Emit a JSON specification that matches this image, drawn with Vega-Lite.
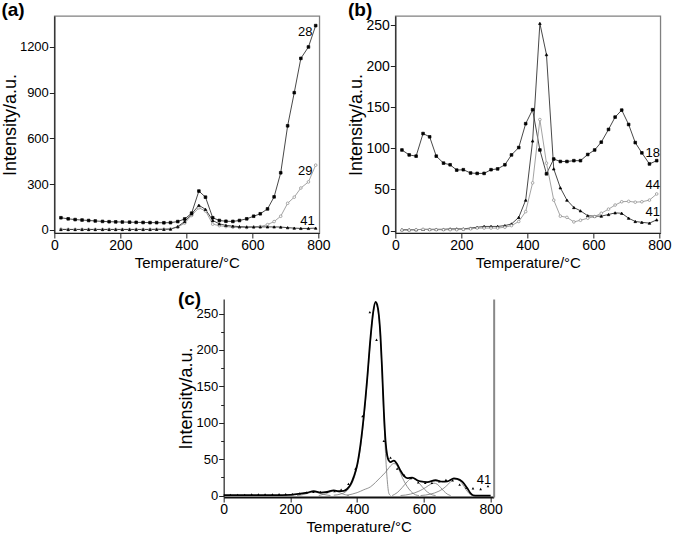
{
"$schema": "https://vega.github.io/schema/vega-lite/v6.json",
"padding": 0,
"background": "white",
"config": {
  "font": "Liberation Sans",
  "view": {"stroke": "#808080", "strokeWidth": 1.3},
  "axis": {"grid": false, "domainColor": "#222", "domainWidth": 1.2, "tickColor": "#222", "tickWidth": 1, "labelColor": "#000", "titleColor": "#000", "labelFont": "Liberation Sans", "titleFont": "Liberation Sans", "titleFontWeight": "normal", "labelFlush": false, "labelOverlap": false},
  "axisX": {"labelFontSize": 14, "titleFontSize": 15, "titlePadding": 3, "labelPadding": 0},
  "axisY": {"labelFontSize": 13, "titleFontSize": 18, "titlePadding": 0, "labelPadding": 1},
  "title": {"font": "Liberation Sans", "fontSize": 19, "fontWeight": "bold", "anchor": "start", "frame": "bounds", "color": "#000"},
  "text": {"font": "Liberation Sans", "fontSize": 13, "color": "#000"}
},
"datasets": {
  "a": [
    {"s":"28","T":20,"I":80},{"s":"28","T":42,"I":73},{"s":"28","T":63,"I":68},{"s":"28","T":84,"I":65},{"s":"28","T":104,"I":62},{"s":"28","T":124,"I":59},{"s":"28","T":146,"I":56},{"s":"28","T":166,"I":54},{"s":"28","T":186,"I":53},{"s":"28","T":206,"I":52},{"s":"28","T":228,"I":51},{"s":"28","T":248,"I":50},{"s":"28","T":269,"I":49},{"s":"28","T":290,"I":48},{"s":"28","T":310,"I":48},{"s":"28","T":332,"I":47},{"s":"28","T":352,"I":48},{"s":"28","T":374,"I":55},{"s":"28","T":395,"I":72},{"s":"28","T":416,"I":110},{"s":"28","T":438,"I":255},{"s":"28","T":458,"I":215},{"s":"28","T":480,"I":80},{"s":"28","T":500,"I":62},{"s":"28","T":520,"I":57},{"s":"28","T":541,"I":56},{"s":"28","T":561,"I":62},{"s":"28","T":583,"I":73},{"s":"28","T":604,"I":90},{"s":"28","T":624,"I":106},{"s":"28","T":646,"I":138},{"s":"28","T":666,"I":217},{"s":"28","T":686,"I":375},{"s":"28","T":707,"I":683},{"s":"28","T":727,"I":900},{"s":"28","T":747,"I":1125},{"s":"28","T":770,"I":1200},{"s":"28","T":792,"I":1340},
    {"s":"29","T":20,"I":5},{"s":"29","T":42,"I":4},{"s":"29","T":63,"I":4},{"s":"29","T":84,"I":4},{"s":"29","T":104,"I":4},{"s":"29","T":124,"I":4},{"s":"29","T":146,"I":4},{"s":"29","T":166,"I":4},{"s":"29","T":186,"I":4},{"s":"29","T":206,"I":4},{"s":"29","T":228,"I":4},{"s":"29","T":248,"I":4},{"s":"29","T":269,"I":4},{"s":"29","T":290,"I":4},{"s":"29","T":310,"I":5},{"s":"29","T":332,"I":5},{"s":"29","T":352,"I":6},{"s":"29","T":374,"I":18},{"s":"29","T":395,"I":45},{"s":"29","T":416,"I":95},{"s":"29","T":438,"I":145},{"s":"29","T":458,"I":125},{"s":"29","T":480,"I":38},{"s":"29","T":500,"I":28},{"s":"29","T":520,"I":22},{"s":"29","T":541,"I":18},{"s":"29","T":561,"I":16},{"s":"29","T":583,"I":16},{"s":"29","T":604,"I":18},{"s":"29","T":624,"I":22},{"s":"29","T":646,"I":35},{"s":"29","T":666,"I":55},{"s":"29","T":686,"I":90},{"s":"29","T":707,"I":175},{"s":"29","T":727,"I":215},{"s":"29","T":747,"I":275},{"s":"29","T":770,"I":315},{"s":"29","T":792,"I":425},
    {"s":"41","T":20,"I":3},{"s":"41","T":42,"I":3},{"s":"41","T":63,"I":3},{"s":"41","T":84,"I":3},{"s":"41","T":104,"I":3},{"s":"41","T":124,"I":3},{"s":"41","T":146,"I":3},{"s":"41","T":166,"I":3},{"s":"41","T":186,"I":3},{"s":"41","T":206,"I":3},{"s":"41","T":228,"I":3},{"s":"41","T":248,"I":3},{"s":"41","T":269,"I":3},{"s":"41","T":290,"I":3},{"s":"41","T":310,"I":4},{"s":"41","T":332,"I":4},{"s":"41","T":352,"I":6},{"s":"41","T":374,"I":22},{"s":"41","T":395,"I":55},{"s":"41","T":416,"I":105},{"s":"41","T":438,"I":162},{"s":"41","T":458,"I":135},{"s":"41","T":480,"I":62},{"s":"41","T":500,"I":40},{"s":"41","T":520,"I":30},{"s":"41","T":541,"I":25},{"s":"41","T":561,"I":22},{"s":"41","T":583,"I":20},{"s":"41","T":604,"I":20},{"s":"41","T":624,"I":20},{"s":"41","T":646,"I":20},{"s":"41","T":666,"I":20},{"s":"41","T":686,"I":19},{"s":"41","T":707,"I":15},{"s":"41","T":727,"I":12},{"s":"41","T":747,"I":10},{"s":"41","T":770,"I":10},{"s":"41","T":792,"I":12}
  ],
  "b": [
    {"s":"18","T":20,"I":98},{"s":"18","T":42,"I":92},{"s":"18","T":63,"I":90.5},{"s":"18","T":84,"I":118},{"s":"18","T":104,"I":114},{"s":"18","T":124,"I":90.5},{"s":"18","T":146,"I":82},{"s":"18","T":166,"I":80},{"s":"18","T":186,"I":73.5},{"s":"18","T":206,"I":74},{"s":"18","T":228,"I":70},{"s":"18","T":248,"I":69.5},{"s":"18","T":269,"I":69.5},{"s":"18","T":290,"I":74},{"s":"18","T":310,"I":75},{"s":"18","T":332,"I":80},{"s":"18","T":352,"I":92},{"s":"18","T":374,"I":101},{"s":"18","T":395,"I":130},{"s":"18","T":416,"I":147},{"s":"18","T":438,"I":98},{"s":"18","T":458,"I":69},{"s":"18","T":480,"I":87},{"s":"18","T":500,"I":84},{"s":"18","T":520,"I":84},{"s":"18","T":541,"I":85},{"s":"18","T":561,"I":85},{"s":"18","T":583,"I":92.5},{"s":"18","T":604,"I":98},{"s":"18","T":624,"I":107.5},{"s":"18","T":646,"I":123},{"s":"18","T":666,"I":138},{"s":"18","T":686,"I":146.5},{"s":"18","T":707,"I":129},{"s":"18","T":727,"I":107},{"s":"18","T":747,"I":94.5},{"s":"18","T":770,"I":81},{"s":"18","T":792,"I":85},
    {"s":"41","T":20,"I":1},{"s":"41","T":42,"I":1},{"s":"41","T":63,"I":1},{"s":"41","T":84,"I":1.5},{"s":"41","T":104,"I":1.5},{"s":"41","T":124,"I":1.5},{"s":"41","T":146,"I":1.5},{"s":"41","T":166,"I":2},{"s":"41","T":186,"I":2},{"s":"41","T":206,"I":2},{"s":"41","T":228,"I":3},{"s":"41","T":248,"I":4},{"s":"41","T":269,"I":5},{"s":"41","T":290,"I":5},{"s":"41","T":310,"I":5},{"s":"41","T":332,"I":6},{"s":"41","T":352,"I":8},{"s":"41","T":374,"I":16},{"s":"41","T":395,"I":37},{"s":"41","T":416,"I":109},{"s":"41","T":438,"I":252},{"s":"41","T":458,"I":214},{"s":"41","T":480,"I":75},{"s":"41","T":500,"I":52},{"s":"41","T":520,"I":37},{"s":"41","T":541,"I":28},{"s":"41","T":561,"I":24},{"s":"41","T":583,"I":18},{"s":"41","T":604,"I":17.5},{"s":"41","T":624,"I":17.5},{"s":"41","T":646,"I":19.5},{"s":"41","T":666,"I":21.5},{"s":"41","T":686,"I":21},{"s":"41","T":707,"I":15},{"s":"41","T":727,"I":11},{"s":"41","T":747,"I":10},{"s":"41","T":770,"I":9},{"s":"41","T":792,"I":13},
    {"s":"44","T":20,"I":0.5},{"s":"44","T":42,"I":0.5},{"s":"44","T":63,"I":1},{"s":"44","T":84,"I":1.5},{"s":"44","T":104,"I":1},{"s":"44","T":124,"I":1},{"s":"44","T":146,"I":1},{"s":"44","T":166,"I":1},{"s":"44","T":186,"I":1},{"s":"44","T":206,"I":1.5},{"s":"44","T":228,"I":2},{"s":"44","T":248,"I":3},{"s":"44","T":269,"I":3},{"s":"44","T":290,"I":3},{"s":"44","T":310,"I":3},{"s":"44","T":332,"I":4},{"s":"44","T":352,"I":6},{"s":"44","T":374,"I":11},{"s":"44","T":395,"I":23},{"s":"44","T":416,"I":58},{"s":"44","T":438,"I":135},{"s":"44","T":458,"I":82},{"s":"44","T":480,"I":37},{"s":"44","T":500,"I":17.5},{"s":"44","T":520,"I":16},{"s":"44","T":541,"I":10.5},{"s":"44","T":561,"I":12.5},{"s":"44","T":583,"I":15},{"s":"44","T":604,"I":17},{"s":"44","T":624,"I":21},{"s":"44","T":646,"I":26},{"s":"44","T":666,"I":31},{"s":"44","T":686,"I":35},{"s":"44","T":707,"I":35.5},{"s":"44","T":727,"I":34.5},{"s":"44","T":747,"I":35},{"s":"44","T":770,"I":37},{"s":"44","T":792,"I":44.5}
  ],
  "cfit": [
    {"T":0,"I":0.5},{"T":50,"I":0.5},{"T":100,"I":0.5},{"T":150,"I":0.5},{"T":200,"I":1},{"T":230,"I":2.5},{"T":250,"I":4},{"T":270,"I":6},{"T":290,"I":4},{"T":310,"I":5},{"T":330,"I":7},{"T":345,"I":6},{"T":360,"I":6.5},{"T":370,"I":9},{"T":380,"I":15},{"T":390,"I":26},{"T":400,"I":42},{"T":410,"I":70},{"T":420,"I":110},{"T":425,"I":134},{"T":430,"I":160},{"T":440,"I":217},{"T":448,"I":252},{"T":455,"I":266},{"T":460,"I":262},{"T":465,"I":248},{"T":470,"I":218},{"T":475,"I":170},{"T":480,"I":115},{"T":485,"I":75},{"T":490,"I":55},{"T":495,"I":48},{"T":500,"I":46},{"T":510,"I":48},{"T":520,"I":43},{"T":530,"I":34},{"T":540,"I":27},{"T":550,"I":24},{"T":565,"I":24.5},{"T":580,"I":21},{"T":590,"I":19.5},{"T":610,"I":18.5},{"T":635,"I":21},{"T":655,"I":19},{"T":670,"I":19.5},{"T":690,"I":23.5},{"T":700,"I":23},{"T":715,"I":19},{"T":730,"I":10},{"T":740,"I":3},{"T":748,"I":0.3},{"T":760,"I":0},{"T":800,"I":0}
  ],
  "ccomp": [
    {"c":"1","T":330,"I":0.5},{"c":"1","T":350,"I":2},{"c":"1","T":370,"I":7},{"c":"1","T":380,"I":13},{"c":"1","T":390,"I":23},{"c":"1","T":400,"I":40},{"c":"1","T":410,"I":66},{"c":"1","T":420,"I":106},{"c":"1","T":425,"I":130},{"c":"1","T":430,"I":157},{"c":"1","T":440,"I":214},{"c":"1","T":448,"I":250},{"c":"1","T":455,"I":264},{"c":"1","T":460,"I":260},{"c":"1","T":465,"I":245},{"c":"1","T":470,"I":214},{"c":"1","T":475,"I":165},{"c":"1","T":480,"I":108},{"c":"1","T":485,"I":58},{"c":"1","T":490,"I":22},{"c":"1","T":495,"I":3},{"c":"1","T":500,"I":0},
    {"c":"2","T":370,"I":0.5},{"c":"2","T":400,"I":4},{"c":"2","T":420,"I":8},{"c":"2","T":440,"I":12},{"c":"2","T":455,"I":18},{"c":"2","T":470,"I":25},{"c":"2","T":485,"I":32},{"c":"2","T":495,"I":38},{"c":"2","T":505,"I":43},{"c":"2","T":510,"I":44},{"c":"2","T":518,"I":42},{"c":"2","T":525,"I":36},{"c":"2","T":535,"I":25},{"c":"2","T":545,"I":16},{"c":"2","T":555,"I":9},{"c":"2","T":565,"I":4},{"c":"2","T":575,"I":1},{"c":"2","T":585,"I":0},
    {"c":"3","T":505,"I":0},{"c":"3","T":520,"I":4},{"c":"3","T":535,"I":11},{"c":"3","T":550,"I":19},{"c":"3","T":565,"I":24},{"c":"3","T":580,"I":20},{"c":"3","T":595,"I":12},{"c":"3","T":610,"I":5},{"c":"3","T":625,"I":1},{"c":"3","T":635,"I":0},
    {"c":"4","T":530,"I":0},{"c":"4","T":560,"I":2},{"c":"4","T":585,"I":6},{"c":"4","T":605,"I":11},{"c":"4","T":620,"I":15.5},{"c":"4","T":630,"I":17},{"c":"4","T":640,"I":15.5},{"c":"4","T":650,"I":11},{"c":"4","T":660,"I":6},{"c":"4","T":670,"I":2},{"c":"4","T":680,"I":0},
    {"c":"5","T":590,"I":0},{"c":"5","T":620,"I":2},{"c":"5","T":645,"I":6},{"c":"5","T":665,"I":12},{"c":"5","T":680,"I":19},{"c":"5","T":692,"I":22.5},{"c":"5","T":705,"I":21},{"c":"5","T":715,"I":16},{"c":"5","T":725,"I":9},{"c":"5","T":735,"I":3},{"c":"5","T":745,"I":0},
    {"c":"6","T":220,"I":0},{"c":"6","T":240,"I":1.5},{"c":"6","T":255,"I":3.5},{"c":"6","T":270,"I":5},{"c":"6","T":285,"I":3.5},{"c":"6","T":300,"I":1.5},{"c":"6","T":320,"I":0},
    {"c":"7","T":285,"I":0},{"c":"7","T":305,"I":2.5},{"c":"7","T":320,"I":5},{"c":"7","T":330,"I":6.5},{"c":"7","T":340,"I":5.5},{"c":"7","T":355,"I":2.5},{"c":"7","T":375,"I":0}
  ]
},
"spacing": 19,
"center": true,
"vconcat": [
  {
    "spacing": 15,
    "hconcat": [
      {
        "width": 265, "height": 217,
        "title": {"text": "(a)", "offset": -23, "baseline": "bottom"},
        "layer": [
          {
            "data": {"name": "a"},
            "mark": {"type": "line", "strokeWidth": 0.9},
            "encoding": {
              "x": {"field": "T", "type": "quantitative", "scale": {"domain": [0, 803], "nice": false, "zero": false},
                    "axis": {"title": "Temperature/°C", "values": [0,100,200,300,400,500,600,700,800], "format": "d", "labelExpr": "datum.value % 200 === 0 ? datum.label : ''", "tickSize": {"condition": {"test": "datum.value % 200 === 0", "value": 5}, "value": 3}}},
              "y": {"field": "I", "type": "quantitative", "scale": {"domain": [-20, 1403], "nice": false, "zero": false},
                    "axis": {"title": "Intensity/a.u.", "values": [0,150,300,450,600,750,900,1050,1200,1350], "format": "d", "labelExpr": "datum.value % 300 === 0 ? datum.label : ''", "tickSize": {"condition": {"test": "datum.value % 300 === 0", "value": 5}, "value": 3}}},
              "color": {"field": "s", "type": "nominal", "scale": {"domain": ["28","29","41"], "range": ["#333333","#999999","#333333"]}, "legend": null}
            }
          },
          {
            "data": {"name": "a"},
            "mark": {"type": "point", "filled": true, "size": 7, "strokeWidth": 0.7, "opacity": 1},
            "encoding": {
              "x": {"field": "T", "type": "quantitative"},
              "y": {"field": "I", "type": "quantitative"},
              "shape": {"field": "s", "type": "nominal", "scale": {"domain": ["28","29","41"], "range": ["square","circle","triangle-up"]}, "legend": null},
              "fill": {"field": "s", "type": "nominal", "scale": {"domain": ["28","29","41"], "range": ["#000000","#ffffff","#000000"]}, "legend": null},
              "stroke": {"field": "s", "type": "nominal", "scale": {"domain": ["28","29","41"], "range": ["#000000","#888888","#000000"]}, "legend": null}
            }
          },
          {
            "data": {"values": [{"T": 760, "I": 1295, "t": "28"}, {"T": 760, "I": 385, "t": "29"}, {"T": 767, "I": 57, "t": "41"}]},
            "mark": {"type": "text"},
            "encoding": {
              "x": {"field": "T", "type": "quantitative"},
              "y": {"field": "I", "type": "quantitative"},
              "text": {"field": "t"}
            }
          }
        ]
      },
      {
        "width": 265, "height": 217,
        "title": {"text": "(b)", "offset": -23, "baseline": "bottom"},
        "layer": [
          {
            "data": {"name": "b"},
            "mark": {"type": "line", "strokeWidth": 0.9},
            "encoding": {
              "x": {"field": "T", "type": "quantitative", "scale": {"domain": [0, 803], "nice": false, "zero": false},
                    "axis": {"title": "Temperature/°C", "values": [0,100,200,300,400,500,600,700,800], "format": "d", "labelExpr": "datum.value % 200 === 0 ? datum.label : ''", "tickSize": {"condition": {"test": "datum.value % 200 === 0", "value": 5}, "value": 3}}},
              "y": {"field": "I", "type": "quantitative", "scale": {"domain": [-3, 261], "nice": false, "zero": false},
                    "axis": {"title": "Intensity/a.u.", "labelFontSize": 14, "values": [0,25,50,75,100,125,150,175,200,225,250], "format": "d", "labelExpr": "datum.value % 50 === 0 ? datum.label : ''", "tickSize": {"condition": {"test": "datum.value % 50 === 0", "value": 5}, "value": 3}}},
              "color": {"field": "s", "type": "nominal", "scale": {"domain": ["18","41","44"], "range": ["#333333","#333333","#999999"]}, "legend": null}
            }
          },
          {
            "data": {"name": "b"},
            "mark": {"type": "point", "filled": true, "size": 7, "strokeWidth": 0.7, "opacity": 1},
            "encoding": {
              "x": {"field": "T", "type": "quantitative"},
              "y": {"field": "I", "type": "quantitative"},
              "shape": {"field": "s", "type": "nominal", "scale": {"domain": ["18","41","44"], "range": ["square","triangle-up","circle"]}, "legend": null},
              "fill": {"field": "s", "type": "nominal", "scale": {"domain": ["18","41","44"], "range": ["#000000","#000000","#ffffff"]}, "legend": null},
              "stroke": {"field": "s", "type": "nominal", "scale": {"domain": ["18","41","44"], "range": ["#000000","#000000","#888888"]}, "legend": null}
            }
          },
          {
            "data": {"values": [{"T": 780, "I": 94, "t": "18"}, {"T": 780, "I": 55, "t": "44"}, {"T": 780, "I": 22, "t": "41"}]},
            "mark": {"type": "text"},
            "encoding": {
              "x": {"field": "T", "type": "quantitative"},
              "y": {"field": "I", "type": "quantitative"},
              "text": {"field": "t"}
            }
          }
        ]
      }
    ]
  },
  {
    "width": 270, "height": 198,
    "title": {"text": "(c)", "offset": -30, "baseline": "bottom"},
    "view": {"stroke": null},
    "resolve": {"axis": {"y": "independent"}},
    "layer": [
      {
        "data": {"name": "ccomp"},
        "mark": {"type": "line", "strokeWidth": 0.8, "color": "#777777", "interpolate": "monotone"},
        "encoding": {
          "x": {"field": "T", "type": "quantitative", "scale": {"domain": [0, 809], "nice": false, "zero": false},
                "axis": {"title": "Temperature/°C", "domainWidth": 2, "domainColor": "#111", "values": [0,100,200,300,400,500,600,700,800], "format": "d", "labelExpr": "datum.value % 200 === 0 ? datum.label : ''", "tickSize": {"condition": {"test": "datum.value % 200 === 0", "value": 5}, "value": 3}}},
          "y": {"field": "I", "type": "quantitative", "scale": {"domain": [-2, 270], "nice": false, "zero": false},
                "axis": {"title": "Intensity/a.u.", "values": [0,25,50,75,100,125,150,175,200,225,250], "format": "d", "labelExpr": "datum.value % 50 === 0 ? datum.label : ''", "tickSize": {"condition": {"test": "datum.value % 50 === 0", "value": 5}, "value": 3}}},
          "detail": {"field": "c", "type": "nominal"}
        }
      },
      {
        "data": {"name": "cfit"},
        "mark": {"type": "line", "strokeWidth": 1.8, "color": "#000000", "interpolate": "monotone"},
        "encoding": {
          "x": {"field": "T", "type": "quantitative"},
          "y": {"field": "I", "type": "quantitative", "axis": {"orient": "right", "labels": false, "ticks": false, "title": null, "domainColor": "#888888", "domainWidth": 2}}
        }
      },
      {
        "data": {"name": "b"},
        "transform": [{"filter": "datum.s === '41'"}],
        "mark": {"type": "point", "shape": "triangle-up", "filled": true, "size": 7, "color": "#000000", "opacity": 1},
        "encoding": {
          "x": {"field": "T", "type": "quantitative"},
          "y": {"field": "I", "type": "quantitative", "axis": null}
        }
      },
      {
        "data": {"values": [{"T": 780, "I": 21, "t": "41"}]},
        "mark": {"type": "text"},
        "encoding": {
          "x": {"field": "T", "type": "quantitative"},
          "y": {"field": "I", "type": "quantitative", "axis": null},
          "text": {"field": "t"}
        }
      }
    ]
  }
]
}
